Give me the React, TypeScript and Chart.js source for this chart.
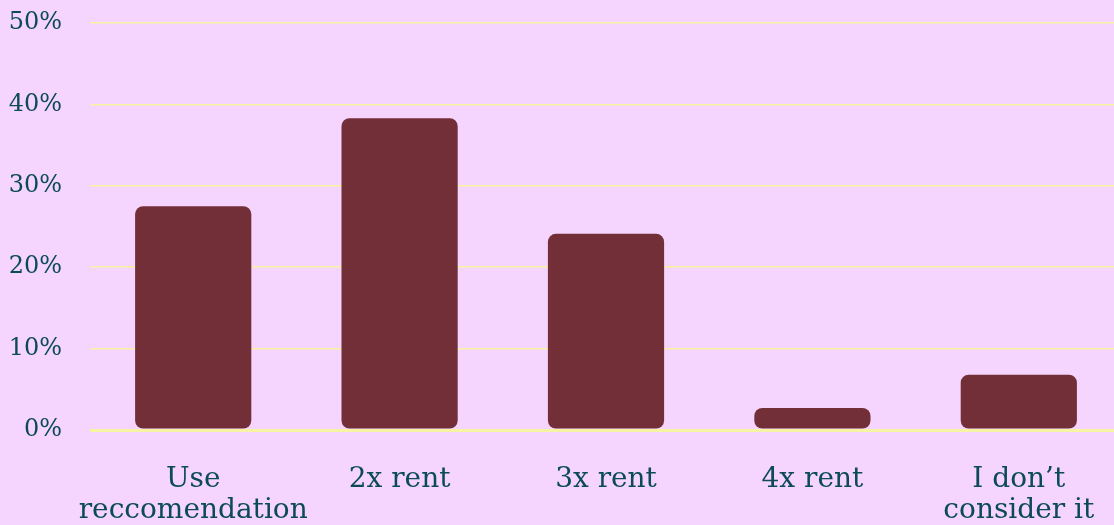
import React, { useEffect, useRef } from "react";
import { Chart, registerables } from "chart.js";

Chart.register(...registerables);

const categories: (string | string[])[] = [
  ["Use", "reccomendation"],
  "2x rent",
  "3x rent",
  "4x rent",
  ["I don\u2019t", "consider it"],
];
const values = [27.5, 38.3, 24.1, 2.7, 6.8];
const yTicks = [0, 10, 20, 30, 40, 50];

const BG = "#f5d5fd";
const BAR = "#722f38";
const TEXT = "#0c4a5a";
const GRID = "#f6f3a2";
const FONT = "'DejaVu Serif', serif";

export default function App() {
  const ref = useRef<HTMLCanvasElement | null>(null);
  useEffect(() => {
    document.body.style.margin = "0";
    document.body.style.overflow = "hidden";
    document.body.style.background = BG;
    const ctx = ref.current!;
    const chart = new Chart(ctx, {
      type: "bar",
      data: {
        labels: categories,
        datasets: [
          {
            data: values,
            backgroundColor: BAR,
            borderRadius: 8,
            borderSkipped: false,
            barPercentage: 0.563,
            categoryPercentage: 1,
          },
        ],
      },
      options: {
        animation: false,
        responsive: false,
        maintainAspectRatio: false,
        layout: { padding: { top: 23, left: 0, right: 0, bottom: 0 } },
        plugins: { legend: { display: false }, tooltip: { enabled: false } },
        scales: {
          x: {
            grid: { display: false },
            border: { display: false },
            afterFit: (axis: any) => {
              axis.height = 95;
              axis.paddingLeft = 0;
              axis.paddingRight = 0;
              axis.paddingTop = 0;
              axis.paddingBottom = 0;
            },
            ticks: {
              color: TEXT,
              font: { family: FONT, size: 28, lineHeight: 1.08 },
              padding: 27,
              maxRotation: 0,
              autoSkip: false,
            },
          },
          y: {
            min: 0,
            max: 50,
            afterBuildTicks: (axis: any) => {
              axis.ticks = yTicks.map((v) => ({ value: v }));
            },
            afterFit: (axis: any) => {
              axis.width = 90;
              axis.paddingTop = 0;
              axis.paddingBottom = 0;
            },
            grid: {
              color: GRID,
              lineWidth: (c: any) => (c.tick && c.tick.value === 0 ? 3 : 1.5),
              drawTicks: false,
            },
            border: { display: false },
            ticks: {
              color: TEXT,
              font: { family: FONT, size: 24 },
              padding: 28,
              callback: (v: any) => v + "%",
            },
          },
        },
      },
    });
    return () => chart.destroy();
  }, []);
  return (
    <div style={{ width: 1114, height: 525, background: BG, overflow: "hidden" }}>
      <canvas ref={ref} width={1122} height={525} style={{ display: "block" }} />
    </div>
  );
}
